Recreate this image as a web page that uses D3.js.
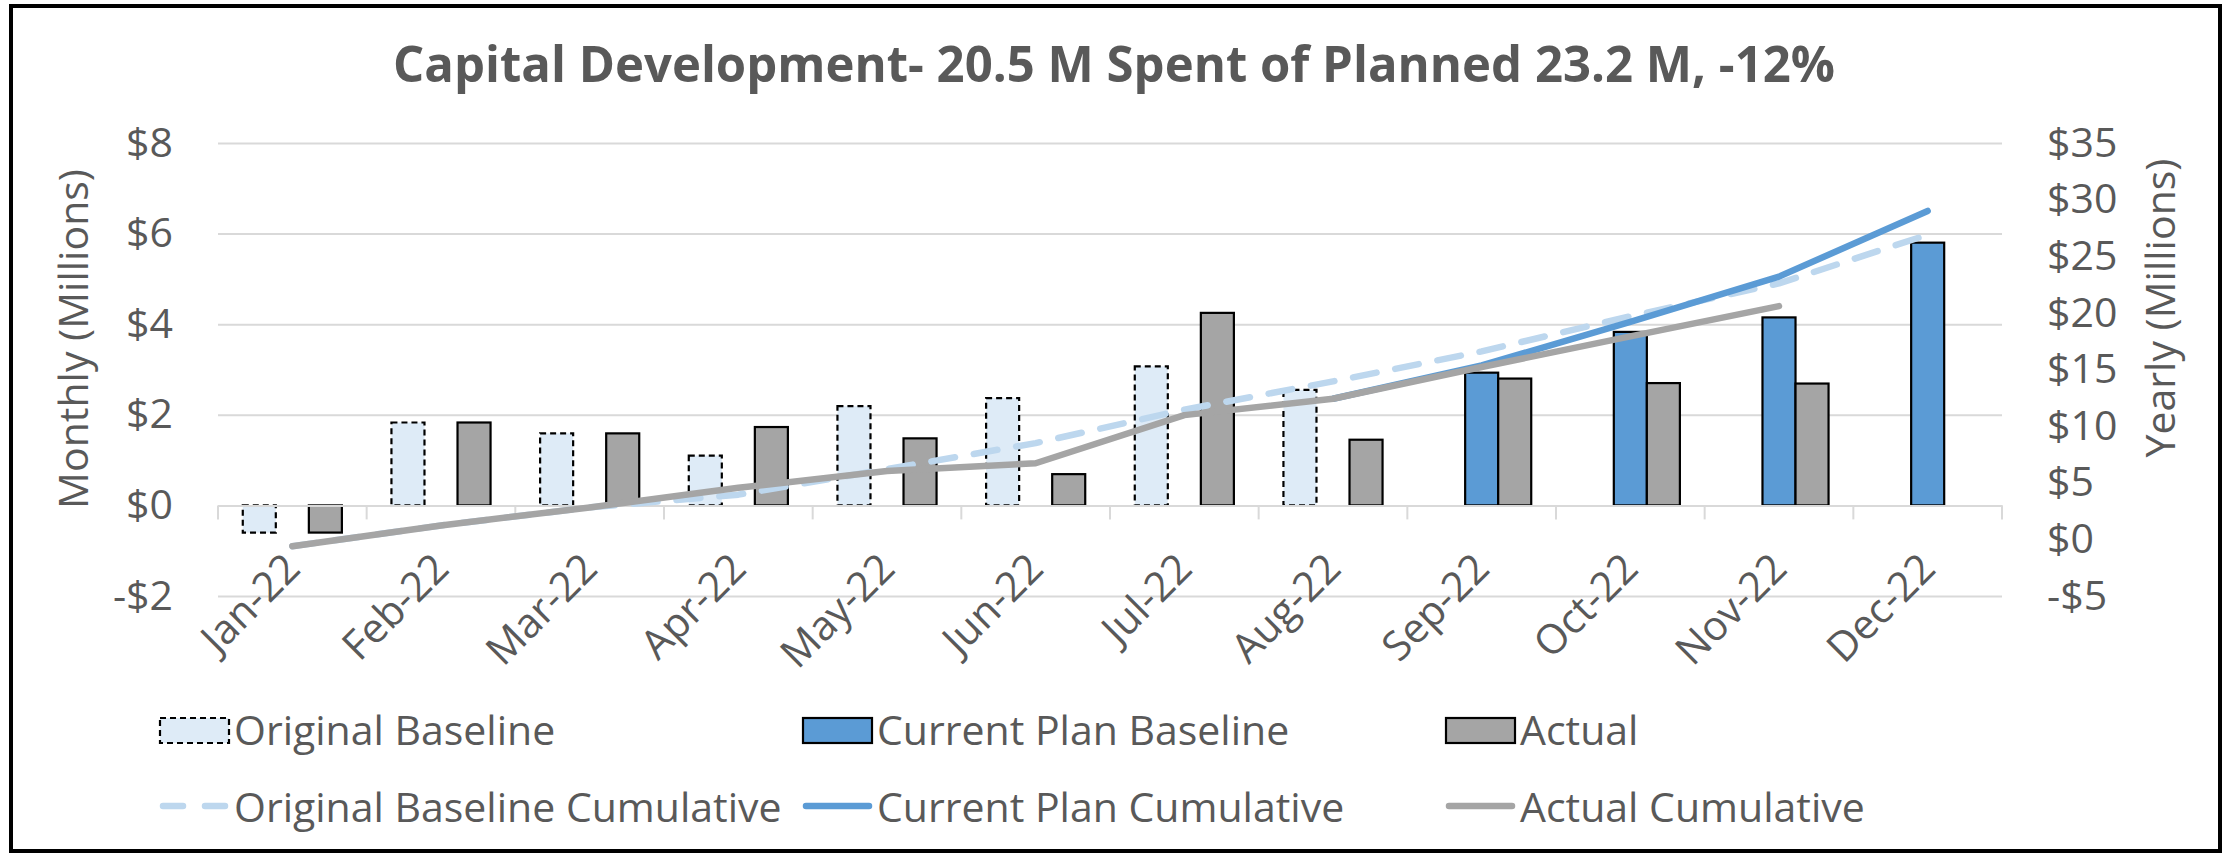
<!DOCTYPE html>
<html>
<head>
<meta charset="utf-8">
<script src="https://cdn.jsdelivr.net/npm/d3@7"></script>
<style>
  html, body { margin: 0; padding: 0; background: #fff; }
  svg { display: block; }
  text { font-family: "Open Sans", "Noto Sans", sans-serif; }
</style>
</head>
<body>
<svg id="chart" width="2229" height="853"></svg>
<script>
// ---------------- DATA ----------------
const months = ["Jan-22","Feb-22","Mar-22","Apr-22","May-22","Jun-22","Jul-22","Aug-22","Sep-22","Oct-22","Nov-22","Dec-22"];
const originalBaseline = [-0.6, 1.83, 1.59, 1.10, 2.19, 2.37, 3.07, 2.55, null, null, null, null];
const currentPlanBaseline = [null, null, null, null, null, null, null, null, 2.93, 3.83, 4.15, 5.80];
const actual = [-0.6, 1.83, 1.59, 1.73, 1.48, 0.69, 4.25, 1.45, 2.80, 2.70, 2.69, null];
const originalCumulative = [-0.6, 1.23, 2.82, 3.95, 6.2, 8.5, 11.45, 13.95, 16.6, 19.7, 22.6, 26.9];
const currentPlanCumulative = [null, null, null, null, null, null, null, 12.42, 15.36, 19.2, 23.2, 29.0];
const actualCumulative = [-0.6, 1.23, 2.82, 4.55, 6.03, 6.72, 10.97, 12.42, 15.22, 17.92, 20.6, null];
const leftTicks = [-2, 0, 2, 4, 6, 8];
const rightTicks = [-5, 0, 5, 10, 15, 20, 25, 30, 35];
const titleText = "Capital Development- 20.5 M Spent of Planned 23.2 M, -12%";
const leftTitle = "Monthly (Millions)";
const rightTitle = "Yearly (Millions)";
const barSeries = ["Original Baseline", "Current Plan Baseline", "Actual"];
const lineSeries = ["Original Baseline Cumulative", "Current Plan Cumulative", "Actual Cumulative"];

// ---------------- STYLE ----------------
const TXT = "#595959", GRID = "#D9D9D9";
const C_ORIG = "#DEEBF7", C_PLAN = "#5B9BD5", C_ACT = "#A5A5A5", C_ORIGLINE = "#BDD7EE";
const FS = 41;
const LW = 6.5;

const svg = d3.select("#chart");
svg.append("rect").attr("width", 2229).attr("height", 853).attr("fill", "#fff");

const plot = {left: 218, right: 2002, top: 143, bottom: 596};

const x0 = d3.scaleBand().domain(months).range([plot.left, plot.right]).padding(0);
const x1 = d3.scaleBand().domain(barSeries).range([0, x0.bandwidth()]).paddingInner(0).paddingOuter(0.75);
const yL = d3.scaleLinear().domain([-2, 8]).range([plot.bottom, plot.top]);
const yR = d3.scaleLinear().domain([-5, 35]).range([plot.bottom, plot.top]);
const fmt = v => (v < 0 ? "-$" : "$") + Math.abs(v);

// gridlines
const grid = svg.append("g").attr("transform", `translate(${plot.left},0)`)
  .call(d3.axisLeft(yL).tickValues(leftTicks).tickSize(-(plot.right - plot.left)).tickFormat(""));
grid.select(".domain").remove();
grid.selectAll("line").attr("stroke", GRID).attr("stroke-width", 2);

// bars
const seriesData = [
  {name: barSeries[0], values: originalBaseline, fill: C_ORIG, dash: "6,4"},
  {name: barSeries[1], values: currentPlanBaseline, fill: C_PLAN, dash: null},
  {name: barSeries[2], values: actual, fill: C_ACT, dash: null}
];
seriesData.forEach(s => {
  svg.append("g").selectAll("rect")
    .data(s.values.map((v, i) => ({v, m: months[i]})).filter(d => d.v != null))
    .join("rect")
    .attr("x", d => x0(d.m) + x1(s.name))
    .attr("width", x1.bandwidth())
    .attr("y", d => yL(Math.max(0, d.v)))
    .attr("height", d => Math.abs(yL(d.v) - yL(0)))
    .attr("fill", s.fill)
    .attr("stroke", "#000")
    .attr("stroke-width", 2.2)
    .attr("stroke-dasharray", s.dash);
});

// category axis at zero
const y0 = yL(0);
const xAxis = svg.append("g").attr("transform", `translate(0,${y0})`)
  .call(d3.axisBottom(x0).tickSize(0));
xAxis.select(".domain").attr("stroke", GRID).attr("stroke-width", 2);
xAxis.selectAll("text")
  .attr("x", 0).attr("y", 0).attr("dy", 0)
  .attr("transform", `translate(10,${571 - y0}) rotate(-45)`)
  .attr("text-anchor", "end")
  .attr("font-size", FS).attr("fill", TXT).attr("font-family", "Open Sans");
// boundary tick marks
const bounds = months.map(m => x0(m)).concat([x0(months[months.length - 1]) + x0.bandwidth()]);
svg.append("g").selectAll("line").data(bounds).join("line")
  .attr("x1", d => d).attr("x2", d => d).attr("y1", y0).attr("y2", y0 + 14)
  .attr("stroke", GRID).attr("stroke-width", 2);

// left axis
const la = svg.append("g").attr("transform", `translate(${plot.left},0)`)
  .call(d3.axisLeft(yL).tickValues(leftTicks).tickSize(0).tickPadding(45).tickFormat(fmt));
la.select(".domain").remove();
la.selectAll("text").attr("font-size", FS).attr("fill", TXT).attr("font-family", "Open Sans");

// right axis
const ra = svg.append("g").attr("transform", `translate(${plot.right},0)`)
  .call(d3.axisRight(yR).tickValues(rightTicks).tickSize(0).tickPadding(45).tickFormat(fmt));
ra.select(".domain").remove();
ra.selectAll("text").attr("font-size", FS).attr("fill", TXT).attr("font-family", "Open Sans");

// cumulative lines
const cx = i => x0(months[i]) + x0.bandwidth() / 2;
const line = d3.line().defined(d => d != null).x((d, i) => cx(i)).y(d => yR(d));
const lineDefs = [
  {values: originalCumulative, color: C_ORIGLINE, dash: "24,19"},
  {values: currentPlanCumulative, color: C_PLAN, dash: null},
  {values: actualCumulative, color: C_ACT, dash: null}
];
lineDefs.forEach(l => {
  svg.append("path").datum(l.values)
    .attr("d", line)
    .attr("fill", "none")
    .attr("stroke", l.color)
    .attr("stroke-width", LW)
    .attr("stroke-linecap", "round")
    .attr("stroke-linejoin", "round")
    .attr("stroke-dasharray", l.dash);
});

// title
svg.append("text").attr("x", 1114).attr("y", 82)
  .attr("text-anchor", "middle").attr("font-size", 51).attr("font-weight", "bold")
  .attr("fill", TXT).attr("textLength", 1442).attr("lengthAdjust", "spacingAndGlyphs")
  .text(titleText);

// axis titles
svg.append("text").attr("transform", "translate(74,339) rotate(-90)")
  .attr("text-anchor", "middle").attr("dy", "0.35em").attr("font-size", FS).attr("fill", TXT)
  .text(leftTitle);
svg.append("text").attr("transform", "translate(2161,308) rotate(-90)")
  .attr("text-anchor", "middle").attr("dy", "0.35em").attr("font-size", FS).attr("fill", TXT)
  .text(rightTitle);

// legend
const colX = [160, 803, 1446];
const symW = 69;
const row1 = 745, row2 = 822;
seriesData.forEach((s, i) => {
  svg.append("rect").attr("x", colX[i]).attr("y", 718).attr("width", symW).attr("height", 25)
    .attr("fill", s.fill).attr("stroke", "#000").attr("stroke-width", 2.2)
    .attr("stroke-dasharray", s.dash);
  svg.append("text").attr("x", colX[i] + symW + 5).attr("y", row1)
    .attr("font-size", FS).attr("fill", TXT).text(s.name);
});
lineDefs.forEach((l, i) => {
  svg.append("line").attr("x1", colX[i] + 3).attr("x2", colX[i] + symW - 3)
    .attr("y1", 806).attr("y2", 806)
    .attr("stroke", l.color).attr("stroke-width", LW).attr("stroke-linecap", "round")
    .attr("stroke-dasharray", l.dash ? "20,22" : null);
  svg.append("text").attr("x", colX[i] + symW + 5).attr("y", row2)
    .attr("font-size", FS).attr("fill", TXT).text(lineSeries[i]);
});

// chart border
svg.append("rect").attr("x", 11).attr("y", 6).attr("width", 2209).attr("height", 845)
  .attr("fill", "none").attr("stroke", "#000").attr("stroke-width", 4);
</script>
</body>
</html>
